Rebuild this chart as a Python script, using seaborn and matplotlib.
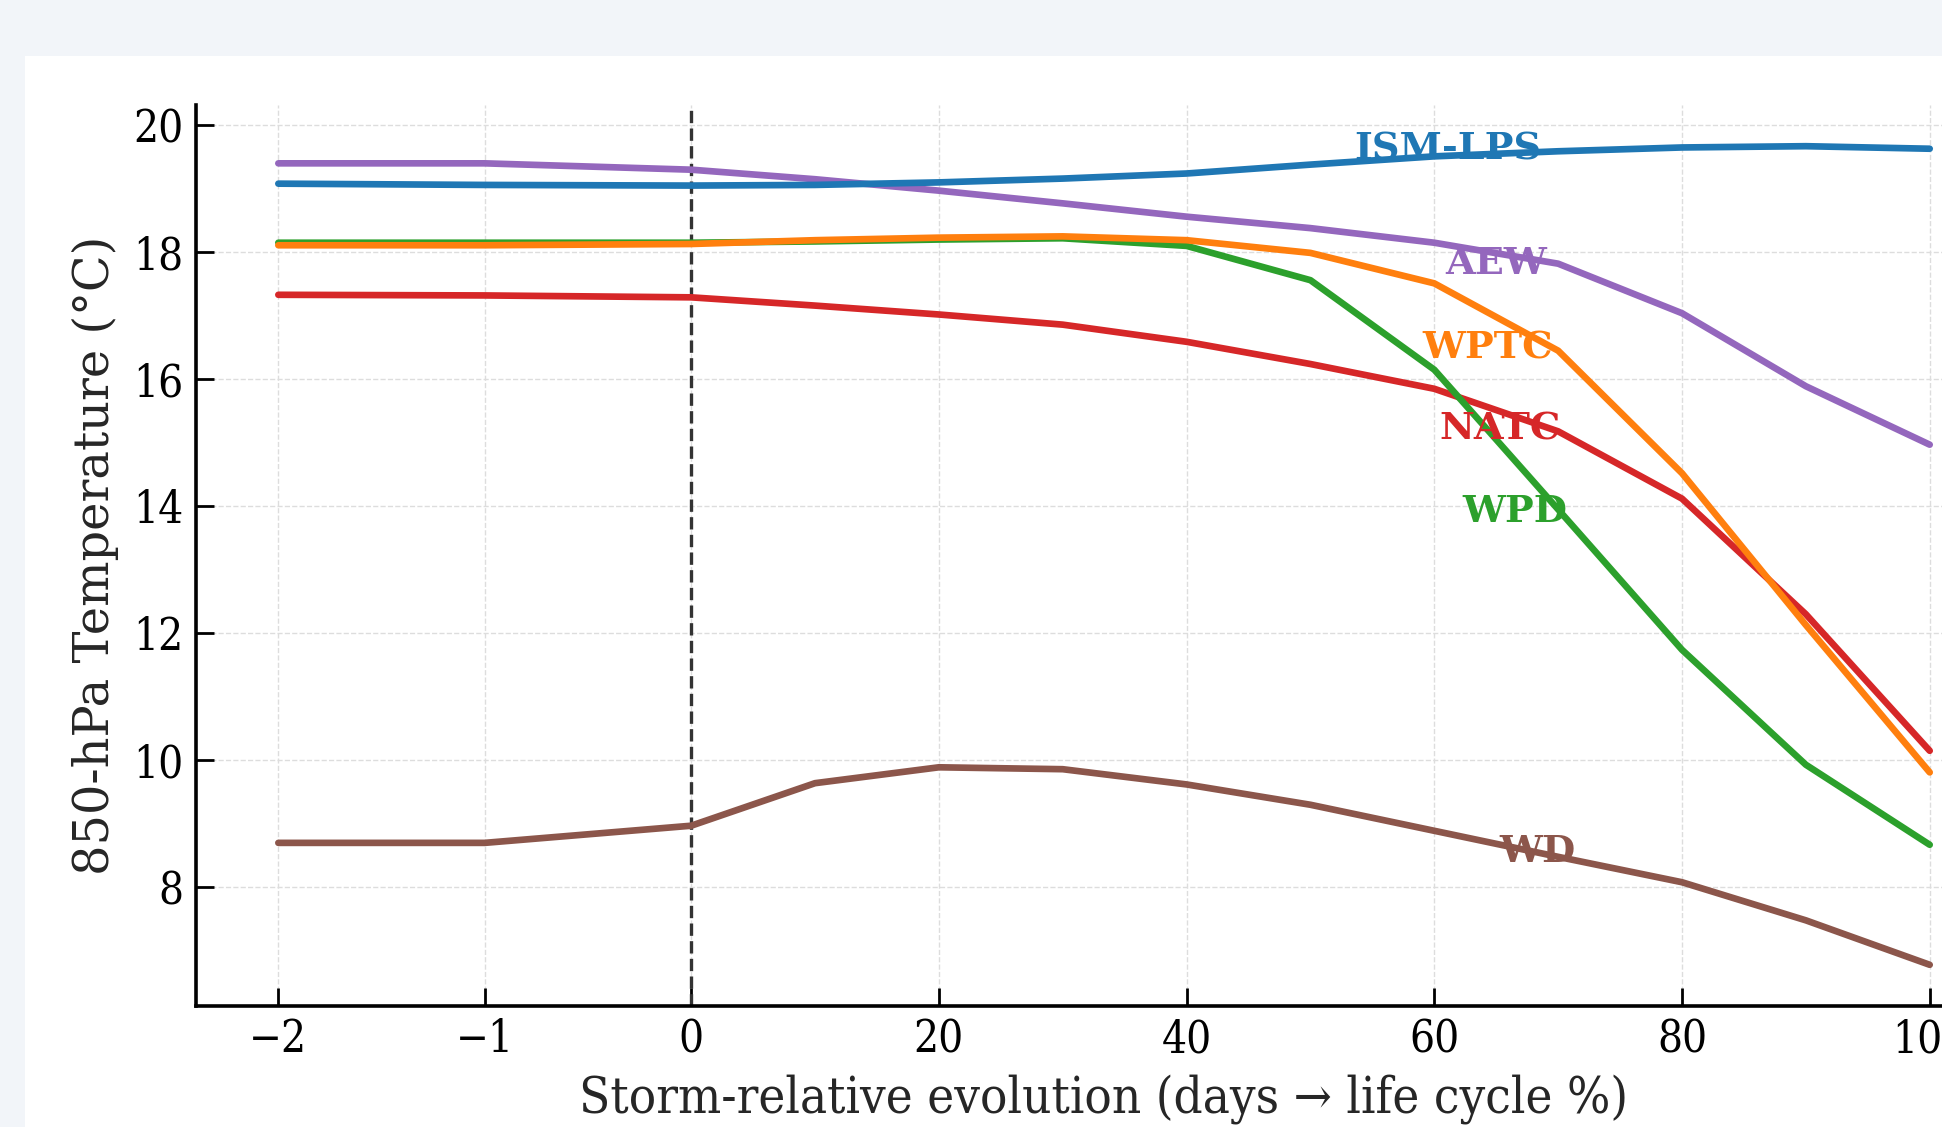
import numpy as np
import pandas as pd
import matplotlib
matplotlib.use("Agg")
import matplotlib.pyplot as plt
from matplotlib.patches import Rectangle
import seaborn as sns

# ---------------- data ----------------
days = [-2, -1, 0]
life_pct = [10, 20, 30, 40, 50, 60, 70, 80, 90, 100]
tick_labels = ["\u22122", "\u22121", "0", "20", "40", "60", "80", "100"]
tick_days = [-2, -1, 0]
tick_pct = [20, 40, 60, 80, 100]

ism_lps = [19.08, 19.06, 19.05, 19.06, 19.10, 19.16, 19.24, 19.38, 19.51, 19.59, 19.65, 19.67, 19.63]
wptc = [18.11, 18.11, 18.13, 18.19, 18.23, 18.25, 18.19, 17.99, 17.51, 16.45, 14.52, 12.13, 9.81]
wpd = [18.15, 18.15, 18.15, 18.17, 18.20, 18.22, 18.10, 17.56, 16.15, 13.95, 11.74, 9.93, 8.67]
natc = [17.33, 17.32, 17.29, 17.16, 17.02, 16.86, 16.59, 16.24, 15.85, 15.18, 14.12, 12.30, 10.15]
aew = [19.40, 19.40, 19.30, 19.15, 18.97, 18.77, 18.56, 18.38, 18.15, 17.82, 17.04, 15.89, 14.97]
wd = [8.70, 8.70, 8.97, 9.64, 9.89, 9.86, 9.62, 9.30, 8.89, 8.48, 8.08, 7.48, 6.78]

names = ["WD", "AEW", "NATC", "WPD", "WPTC", "ISM-LPS"]          # draw order
series = [wd, aew, natc, wpd, wptc, ism_lps]
colors = ["#8c564b", "#9467bd", "#d62728", "#2ca02c", "#ff7f0e", "#1f77b4"]
label_x = [68.3, 65.0, 65.3, 66.5, 64.3, 61.1]
label_y = [8.56, 17.82, 15.22, 13.92, 16.49, 19.62]

# days are spread so that one day spans 100/6 life-cycle percent units
day_scale = 100 / 6
x_pos = [d * day_scale for d in days] + life_pct
tick_pos = [d * day_scale for d in tick_days] + tick_pct

# ---------------- style ----------------
sns.set_theme(style="white")
plt.rcParams["font.family"] = ["DejaVu Serif"]
plt.rcParams["axes.unicode_minus"] = True

fig = plt.figure(figsize=(19.42, 11.27), dpi=100)
fig.patch.set_facecolor("#f2f5f9")
panel = Rectangle((25 / 1942, 0), 1, 1 - 56 / 1127,
                  transform=fig.transFigure, facecolor="white",
                  edgecolor="none", zorder=-10)
fig.add_artist(panel)

ax = fig.add_axes([0.1008, 0.1076, 0.9354, 0.799])
ax.set_zorder(1)
ax.set_facecolor("white")

for name, vals, c in zip(names, series, colors):
    df = pd.DataFrame({"x": x_pos, "y": vals})
    sns.lineplot(data=df, x="x", y="y", color=c, linewidth=4.8, ax=ax)

for name, c, lx, ly in zip(names, colors, label_x, label_y):
    ax.text(lx, ly, name, color=c, fontsize=27.5, fontweight="bold",
            ha="center", va="center", zorder=5)

ax.axvline(0, color="#333333", linestyle="--", linewidth=2.4, zorder=1)

ax.set_xticks(tick_pos)
ax.set_xticklabels(tick_labels)
ax.set_yticks([8, 10, 12, 14, 16, 18, 20])
ax.grid(True, color="#dddddd", linestyle="--", linewidth=1.0)
ax.set_axisbelow(True)

ax.tick_params(axis="both", which="major", direction="in", length=13, width=2,
               labelsize=31.5, pad=9, colors="black", labelcolor="black")
ax.tick_params(left=True, bottom=True)
for lab in ax.get_xticklabels() + ax.get_yticklabels():
    lab.set_fontstretch("condensed")

for s in ["top", "right"]:
    ax.spines[s].set_visible(False)
for s in ["left", "bottom"]:
    ax.spines[s].set_color("black")
    ax.spines[s].set_linewidth(2.6)

ax.set_xlabel("Storm-relative evolution (days \u2192 life cycle %)", fontsize=36.5,
              labelpad=9, fontstretch="condensed")
ax.set_ylabel("850-hPa Temperature (\u00b0C)", fontsize=34.5, labelpad=10)

fig.savefig("out.png", dpi=100, facecolor=fig.get_facecolor())
